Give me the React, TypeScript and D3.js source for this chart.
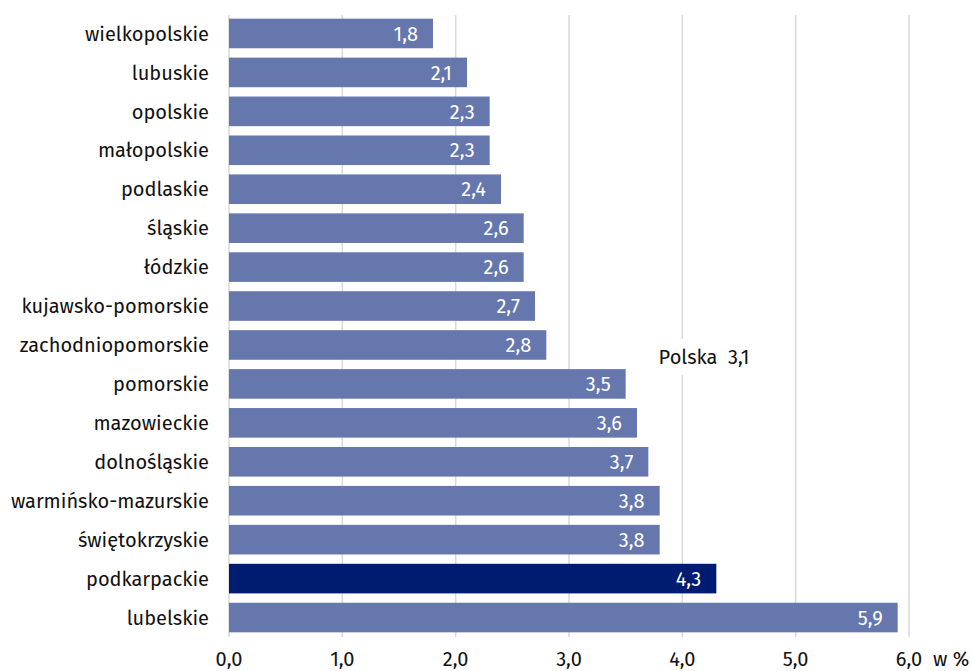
import React from "react";
import * as d3 from "d3";

const regions = [
  "wielkopolskie", "lubuskie", "opolskie", "małopolskie", "podlaskie", "śląskie", "łódzkie",
  "kujawsko-pomorskie", "zachodniopomorskie", "pomorskie", "mazowieckie", "dolnośląskie",
  "warmińsko-mazurskie", "świętokrzyskie", "podkarpackie", "lubelskie",
];
const values = [1.8, 2.1, 2.3, 2.3, 2.4, 2.6, 2.6, 2.7, 2.8, 3.5, 3.6, 3.7, 3.8, 3.8, 4.3, 5.9];
const highlighted = ["podkarpackie"];
const xTicks = [0, 1, 2, 3, 4, 5, 6];
const polskaLabel = "Polska  3,1";
const unitLabel = "w %";

const W = 971, H = 671;
const FONT = "'Fira Sans', 'Noto Sans', 'Open Sans', sans-serif";
const FS = 20;
const fmt = (v: number) => v.toFixed(1).replace(".", ",");

export default function App() {
  const x = d3.scaleLinear().domain([0, 6]).range([229, 909]);
  const y = d3.scaleBand<string>().domain(regions).range([14, 637]).paddingInner(0.24).paddingOuter(0.12);
  return (
    <svg width={W} height={H} style={{ position: "absolute", left: 0, top: 0, background: "#fff" }} fontFamily={FONT}>
      {xTicks.map((t) => (
        <line key={t} x1={x(t)} x2={x(t)} y1={15} y2={637} stroke="#d9d9d9" strokeWidth={1.5} />
      ))}
      <rect x={650} y={339} width={108} height={36} fill="#fff" />
      <text x={704} y={364} textAnchor="middle" fontSize={FS} fill="#111">{polskaLabel.replace("  ", "\u00a0\u00a0")}</text>
      {regions.map((r, i) => {
        const yy = y(r)!;
        const bw = y.bandwidth();
        return (
          <g key={r}>
            <rect x={x(0)} y={yy} width={x(values[i]) - x(0)} height={bw}
              fill={highlighted.includes(r) ? "#001C71" : "#6677AD"} />
            <text x={x(values[i]) - 15} y={yy + bw / 2} dy="0.36em" textAnchor="end" fontSize={FS} fill="#fff">{fmt(values[i])}</text>
            <text x={209} y={yy + bw / 2} dy="0.36em" textAnchor="end" fontSize={FS} fill="#111">{r}</text>
          </g>
        );
      })}
      {xTicks.map((t) => (
        <text key={t} x={x(t)} y={666} textAnchor="middle" fontSize={FS} fill="#111">{fmt(t)}</text>
      ))}
      <text x={933} y={666} fontSize={FS} fill="#111">{unitLabel}</text>
    </svg>
  );
}
